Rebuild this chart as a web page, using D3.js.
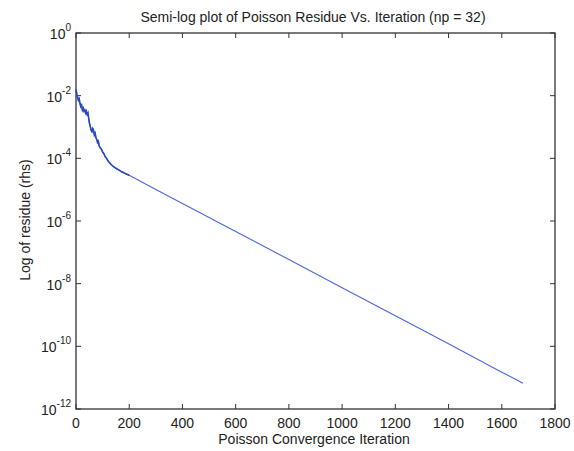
<!DOCTYPE html>
<html><head><meta charset="utf-8">
<script src="https://cdn.jsdelivr.net/npm/d3@7/dist/d3.min.js"></script>
<style>body{margin:0;background:#fff}text{font-family:Arial,"Liberation Sans",sans-serif;fill:#222}</style>
</head><body><svg id="c" width="574" height="451"></svg>
<script>
const iterations = [0,3,6,9,12,15,18,21,24,27,30,33,36,39,42,45,48,51,54,57,60,63,66,69,72,75,78,81,84,87,90,95,100,105,110,115,120,130,140,150,160,170,185,200,300,400,600,800,1000,1200,1400,1600,1680];
const residue = [0.016,0.0112,0.0089,0.0071,0.0079,0.0056,0.0045,0.0050,0.0035,0.0040,0.0032,0.0035,0.0028,0.0032,0.0025,0.0028,0.0018,0.00126,0.0010,0.00079,0.00071,0.00089,0.00079,0.00056,0.00063,0.00045,0.00040,0.00032,0.00035,0.00025,0.00022,0.0002,0.000158,0.000141,0.000112,0.0001,8.3e-5,6.6e-5,5.5e-5,4.8e-5,4.3e-5,3.8e-5,3.3e-5,2.9e-5,1.02e-5,3.6e-6,4.6e-7,5.9e-8,7.4e-9,9.5e-10,1.2e-10,1.5e-11,6.6e-12];
const xTicks = [0,200,400,600,800,1000,1200,1400,1600,1800];
const yTickExps = [0,-2,-4,-6,-8,-10,-12];
const title = "Semi-log plot of Poisson Residue Vs. Iteration (np = 32)";
const xLabel = "Poisson Convergence Iteration";
const yLabel = "Log of residue (rhs)";

const svg = d3.select("#c");
const L=76,R=555,T=33,B=409;
const x = d3.scaleLinear().domain([0,1800]).range([L,R]);
const y = d3.scaleLog().domain([1e-12,1]).range([B,T]);

svg.append("rect").attr("x",L).attr("y",T).attr("width",R-L).attr("height",B-T)
  .attr("fill","none").attr("stroke","#333").attr("stroke-width",1.3);

const tl=5;
xTicks.forEach(t=>{
  const px=x(t);
  svg.append("line").attr("x1",px).attr("x2",px).attr("y1",B).attr("y2",B-tl).attr("stroke","#333");
  svg.append("line").attr("x1",px).attr("x2",px).attr("y1",T).attr("y2",T+tl).attr("stroke","#333");
  svg.append("text").attr("x",px).attr("y",428).attr("text-anchor","middle").attr("font-size",14).text(t);
});
yTickExps.forEach(e=>{
  const py=y(Math.pow(10,e));
  svg.append("line").attr("x1",L).attr("x2",L+tl).attr("y1",py).attr("y2",py).attr("stroke","#333");
  svg.append("line").attr("x1",R).attr("x2",R-tl).attr("y1",py).attr("y2",py).attr("stroke","#333");
  const t=svg.append("text").attr("x",L-5).attr("y",py+6).attr("text-anchor","end").attr("font-size",14);
  t.append("tspan").text("10");
  t.append("tspan").attr("dy",-8).attr("font-size",10).text(e);
});

const line=d3.line().x((d,i)=>x(iterations[i])).y(d=>y(d));
svg.append("path").datum(residue).attr("d",line).attr("fill","none")
  .attr("stroke","#4a68d8").attr("stroke-width",1.1);
// denser, darker early segment
const early = residue.slice(0,44);
svg.append("path").datum(early).attr("d",line).attr("fill","none")
  .attr("stroke","#2a48c0").attr("stroke-width",1.6);

svg.append("text").attr("x",313).attr("y",22).attr("text-anchor","middle").attr("font-size",14).text(title);
svg.append("text").attr("x",314).attr("y",444).attr("text-anchor","middle").attr("font-size",14).text(xLabel);
svg.append("text").attr("transform","translate(30,220) rotate(-90)").attr("text-anchor","middle").attr("font-size",14).text(yLabel);
</script></body></html>
